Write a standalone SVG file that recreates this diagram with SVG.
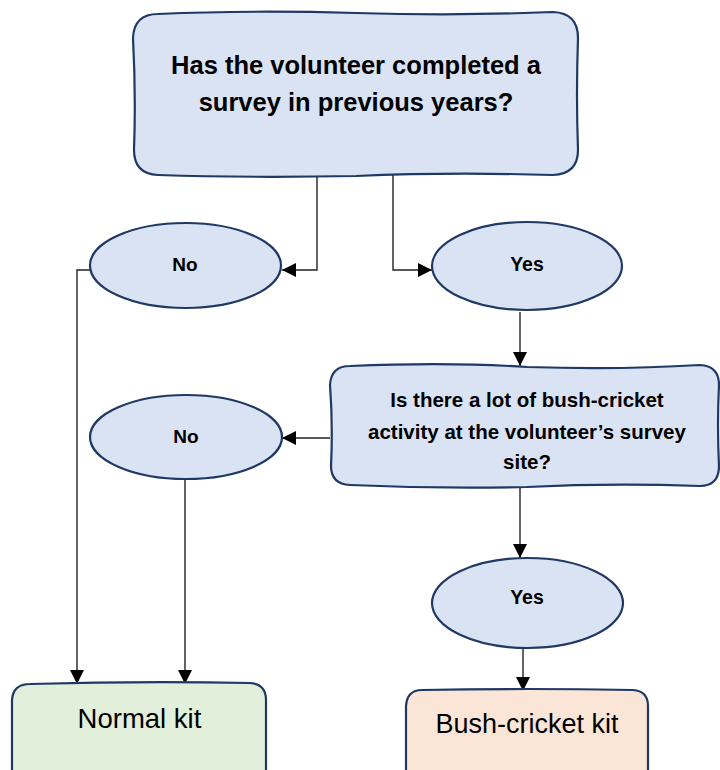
<svg xmlns="http://www.w3.org/2000/svg" width="720" height="770" viewBox="0 0 720 770">
<style>
.q{fill:#DAE3F3;stroke:#1F3864;stroke-width:2.2}
.kitg{fill:#E2EFDA;stroke:#1F3864;stroke-width:2.2}
.kito{fill:#FBE5D6;stroke:#1F3864;stroke-width:2.2}
.b{font-family:"Liberation Sans",Arial,sans-serif;font-weight:bold;fill:#000;text-anchor:middle}
.r{font-family:"Liberation Sans",Arial,sans-serif;fill:#000;text-anchor:middle}
.c{fill:none;stroke:#222;stroke-width:1.4}
</style>
<defs>
<marker id="ah" viewBox="0 0 10 10" refX="10" refY="5" markerWidth="14" markerHeight="14" markerUnits="userSpaceOnUse" orient="auto">
<path d="M0,0 L10,5 L0,10 z" fill="#000"/>
</marker>
</defs>
<rect width="720" height="770" fill="#fff"/>
<g id="connectors">
<path class="c" d="M317,175 V270 H282" marker-end="url(#ah)"/>
<path class="c" d="M393,175 V270 H432" marker-end="url(#ah)"/>
<path class="c" d="M90,270 H77 V684" marker-end="url(#ah)"/>
<path class="c" d="M520,312 V366" marker-end="url(#ah)"/>
<path class="c" d="M330,438 H282" marker-end="url(#ah)"/>
<path class="c" d="M185,480 V684" marker-end="url(#ah)"/>
<path class="c" d="M520,487 V558" marker-end="url(#ah)"/>
<path class="c" d="M523,648 V691" marker-end="url(#ah)"/>
</g>
<g id="q1">
<path class="q" d="M158,14 Q250,10 356,13 Q460,16 553,12 Q578,13 578,38 Q576,95 578,150 Q578,174 553,175 Q450,172 356,176 Q250,178 158,175 Q134,174 134,150 Q136,95 133,38 Q134,14 158,14 Z"/>
<text class="b" x="356" y="74" font-size="25.5">Has the volunteer completed a</text>
<text class="b" x="356" y="111" font-size="25.5">survey in previous years?</text>
</g>
<g id="no1">
<ellipse class="q" cx="185.5" cy="265.5" rx="95.5" ry="42.5"/>
<text class="b" x="185" y="271" font-size="19">No</text>
</g>
<g id="yes1">
<ellipse class="q" cx="527" cy="266" rx="95" ry="44"/>
<text class="b" x="527" y="271" font-size="19.5">Yes</text>
</g>
<g id="q2">
<path class="q" d="M350,366 Q450,362 527,367 Q620,370 700,365 Q719,366 719,385 Q717,425 719,466 Q719,486 700,486 Q610,483 527,487 Q440,489 350,485 Q331,484 331,466 Q333,425 330,385 Q331,366 350,366 Z"/>
<text class="b" x="527" y="407" font-size="20.5">Is there a lot of bush-cricket</text>
<text class="b" x="527" y="439" font-size="20.5">activity at the volunteer’s survey</text>
<text class="b" x="527" y="469" font-size="20.5">site?</text>
</g>
<g id="no2">
<ellipse class="q" cx="186" cy="437" rx="96" ry="42"/>
<text class="b" x="186" y="443" font-size="19">No</text>
</g>
<g id="yes2">
<ellipse class="q" cx="527.5" cy="603" rx="95.5" ry="45"/>
<text class="b" x="527" y="604" font-size="19.5">Yes</text>
</g>
<g id="normal">
<path class="kitg" d="M30,684 Q140,681 250,683 Q266,684 266,700 L266,780 L12,780 L12,700 Q13,684 30,684 Z"/>
<text class="r" x="139.5" y="728" font-size="27.5">Normal kit</text>
</g>
<g id="bush">
<path class="kito" d="M422,690 Q527,688 633,690 Q648,691 648,706 L648,780 L406,780 L406,706 Q407,690 422,690 Z"/>
<text class="r" x="527" y="733" font-size="27">Bush-cricket kit</text>
</g>
</svg>
